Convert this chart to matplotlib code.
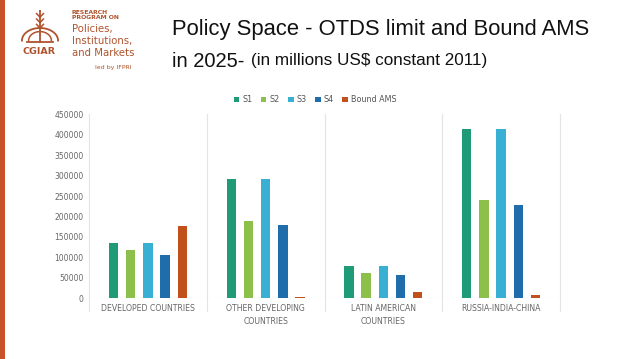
import matplotlib.pyplot as plt
import numpy as np

# Data
groups = ["DEVELOPED COUNTRIES", "OTHER DEVELOPING\nCOUNTRIES",
          "LATIN AMERICAN\nCOUNTRIES", "RUSSIA-INDIA-CHINA"]
series = ["S1", "S2", "S3", "S4", "Bound AMS"]
s1 = [136000, 291000, 78500, 413500]
s2 = [118000, 189000, 61000, 241000]
s3 = [136000, 292500, 78500, 413500]
s4 = [107000, 178500, 57500, 227500]
bound = [177000, 3000, 15500, 8000]
yticks = [0, 50000, 100000, 150000, 200000, 250000, 300000, 350000, 400000, 450000]

colors = ["#1f9b78", "#8cc04a", "#3aafd4", "#1f6dab", "#c0511c"]
values = [s1, s2, s3, s4, bound]

fig = plt.figure(figsize=(6.38, 3.59), dpi=100)
fig.patch.set_facecolor("white")

# left accent stripe
fig.add_artist(plt.Rectangle((0, 0), 0.008, 1, transform=fig.transFigure,
                             color="#c8532b", lw=0))

# logo text
brown = "#b0532c"
fig.text(39 / 638, 1 - 52 / 359, "CGIAR", fontsize=6.8, fontweight="bold",
         color=brown, va="center", ha="center")
fig.text(72 / 638, 1 - 15 / 359, "RESEARCH\nPROGRAM ON", fontsize=4.4,
         fontweight="bold", color=brown, va="center", ha="left", linespacing=1.1)
fig.text(72 / 638, 1 - 41 / 359, "Policies,\nInstitutions,\nand Markets",
         fontsize=7.3, color=brown, va="center", ha="left", linespacing=1.3)
fig.text(113 / 638, 1 - 68 / 359, "led by IFPRI", fontsize=4.5, color=brown,
         va="center", ha="center")
# simple wheat-like emblem
emb = fig.add_axes([21 / 638, 1 - 46 / 359, 38 / 638, 36 / 359])
emb.axis("off")
emb.set_xlim(-1, 1)
emb.set_ylim(0, 1)
emb.plot([0, 0], [0.1, 1.0], color=brown, lw=1.3)
for y in [0.5, 0.65, 0.8]:
    emb.plot([0, -0.18], [y, y + 0.1], color=brown, lw=1.1)
    emb.plot([0, 0.18], [y, y + 0.1], color=brown, lw=1.1)
t = np.linspace(0, np.pi, 30)
emb.plot(-0.95 * np.cos(t / 2), 0.15 + 0.35 * np.sin(t / 2), color=brown, lw=1.3)
emb.plot(0.95 * np.cos(t / 2), 0.15 + 0.35 * np.sin(t / 2), color=brown, lw=1.3)
emb.plot(-0.6 * np.cos(t / 2), 0.15 + 0.25 * np.sin(t / 2), color=brown, lw=1.1)
emb.plot(0.6 * np.cos(t / 2), 0.15 + 0.25 * np.sin(t / 2), color=brown, lw=1.1)
emb.plot([-0.7, 0.7], [0.1, 0.1], color=brown, lw=1.3)

# title
fig.text(172 / 638, 1 - 35 / 359, "Policy Space - OTDS limit and Bound AMS",
         fontsize=15.8, color="#111111", va="baseline", ha="left",
         family="Liberation Sans")
fig.text(172 / 638, 1 - 67 / 359, "in 2025-", fontsize=14.5, color="#111111",
         va="baseline", ha="left", family="Liberation Sans")
fig.text(251 / 638, 1 - 65 / 359, "(in millions US$ constant 2011)",
         fontsize=12.3, color="#111111", va="baseline", ha="left",
         family="Liberation Sans")

# chart
ax = fig.add_axes([89 / 638, 1 - 298.3 / 359, (560 - 89) / 638, 184 / 359])
x = np.arange(len(groups))
step = 0.146
width = 0.08
for i, (name, vals, c) in enumerate(zip(series, values, colors)):
    ax.bar(x + (i - 2) * step, vals, width, color=c, label=name, zorder=3)

ax.set_xlim(-0.5, len(groups) - 0.5)
ax.set_ylim(0, 450000)
ax.set_yticks(yticks)
ax.set_yticklabels([str(v) for v in yticks], fontsize=5.5, color="#666666")
ax.set_xticks(x)
ax.set_xticklabels(groups, fontsize=5.6, color="#666666", linespacing=1.6)
ax.tick_params(length=0, pad=4)
for s in ax.spines.values():
    s.set_visible(False)
ax.axhline(0, color="#d9d9d9", lw=0.8, zorder=2)
for xv in np.arange(-0.5, len(groups), 1.0):
    ax.plot([xv, xv], [-0.07, 1.0], transform=ax.get_xaxis_transform(),
            color="#e3e3e3", lw=0.8, clip_on=False, zorder=1)

ax.legend(loc="lower center", bbox_to_anchor=(0.48, 1.015), ncol=5,
          frameon=False, fontsize=5.8, handlelength=0.7, handleheight=0.7,
          columnspacing=1.0, handletextpad=0.4, labelcolor="#555555")

fig.savefig("out.png", dpi=100)
